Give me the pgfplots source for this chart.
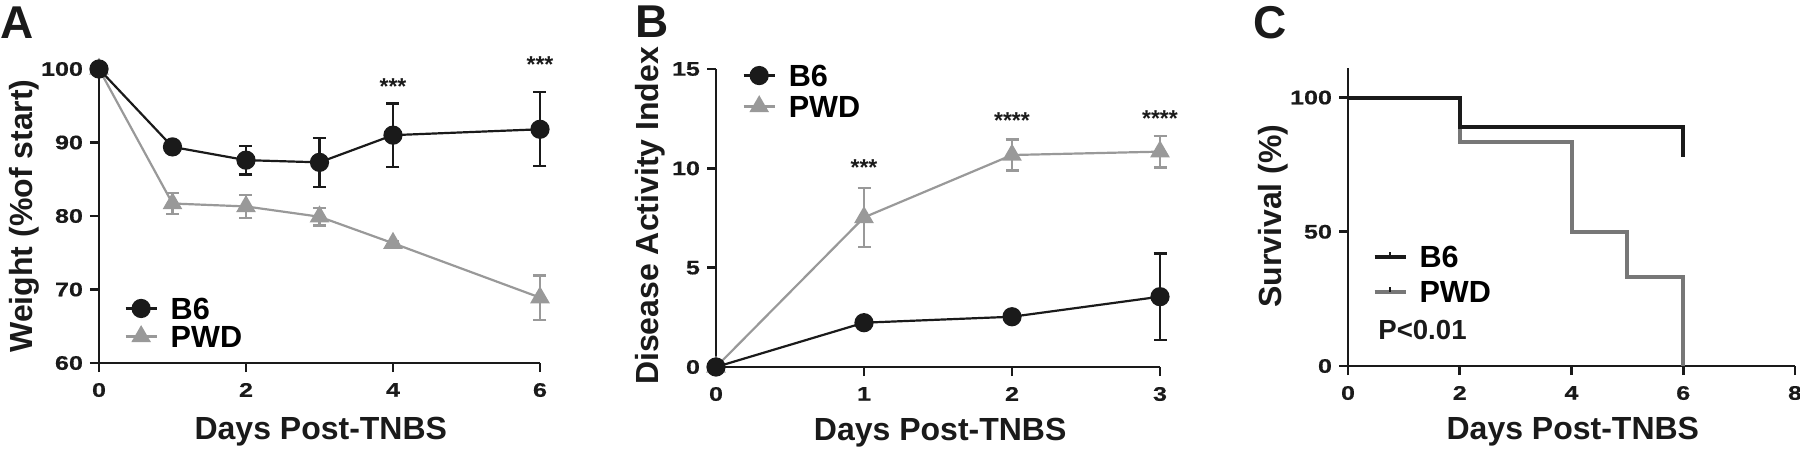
\documentclass[border=0pt]{standalone}
\usepackage{fontspec}
\setmainfont{Liberation Sans}
\newfontfamily\tickfont[FakeStretch=1.28, FakeBold=0.6]{Liberation Sans}
\usepackage{pgfplots}
\pgfplotsset{compat=1.18}
\definecolor{pwdgray}{HTML}{999999}
\definecolor{pwdgrayC}{HTML}{777777}
\definecolor{darkline}{HTML}{1A1A1A}

\tikzset{
  star/.style={font=\bfseries\fontsize{11.5}{12}\selectfont, anchor=base, text=darkline},
  letter/.style={font=\bfseries\fontsize{23}{24}\selectfont, anchor=base west, inner sep=0pt, text=darkline},
}
\pgfplotsset{
  panel/.style={
    scale only axis, clip=false,
    axis lines=left, axis line style={-, line width=1.35pt, darkline},
    tick align=outside, major tick length=4.5pt,
    tick style={line width=1.35pt, darkline},
    /pgf/number format/assume math mode=true,
    tick label style={font=\tickfont\bfseries\fontsize{9.8}{10}\selectfont, text=darkline},
    xticklabel style={yshift=-2pt},
    label style={font=\bfseries\fontsize{16}{18}\selectfont, text=darkline},
    minor tick num=0,
    legend cell align=left,
  },
  errs/.style={
    error bars/.cd, y dir=both, y explicit,
    error bar style={line width=1.1pt},
    error mark options={line width=1.1pt, mark size=3.25pt, rotate=90},
  },
  legimg/.style={
    legend image code/.code={\draw[mark repeat=2,mark phase=2,##1] plot coordinates {(0pt,0pt) (7.75pt,0pt) (15.5pt,0pt)};}
  },
  legimgC/.style={
    legend image code/.code={\draw[##1] (0pt,0pt) -- (15.5pt,0pt); \draw[line width=1pt, darkline] (7.75pt,0pt) -- (7.75pt,2.5pt);}
  },
}

\begin{document}
\begin{tikzpicture}
\useasboundingbox (0pt,0pt) rectangle (900pt,225pt);

% ---------------- Panel A ----------------
\begin{axis}[panel, legimg,
  at={(49.5pt,43.5pt)}, anchor=south west,
  width=220.5pt, height=147pt,
  xmin=0, xmax=6, ymin=60, ymax=100,
  xtick={0,2,4,6}, ytick={60,70,80,90,100},
  xlabel={Days Post-TNBS}, ylabel={Weight (\%of start)},
  xlabel style={at={(axis description cs:0.503,-0.259)}, anchor=base},
  ylabel style={at={(axis description cs:-0.17,0.5)}, anchor=center},
  reverse legend,
  legend style={at={(axis description cs:0.057,0.231)}, anchor=north west, draw=none, fill=none,
    font=\bfseries\fontsize{15.3}{16}\selectfont, inner sep=0pt, row sep=1pt,
    nodes={inner sep=1pt, text height=11pt, text depth=0pt},
    /tikz/every odd column/.append style={column sep=5.5pt}},
]
\addplot[color=pwdgray, line width=1.1pt, mark=triangle*, mark size=4.6pt,
  mark options={fill=pwdgray, draw=pwdgray}, errs] table[x=x, y=y, y error=e] {
x y e
0 100 0
1 81.7 1.45
2 81.3 1.6
3 79.9 1.2
4 76.3 0.3
6 68.9 3.0
};
\addlegendentry{PWD}
\addplot[color=darkline, line width=1.1pt, mark=*, mark size=4.25pt,
  mark options={fill=darkline, draw=darkline}, errs] table[x=x, y=y, y error=e] {
x y e
0 100 0
1 89.4 0.4
2 87.6 1.95
3 87.3 3.35
4 91.0 4.3
6 91.8 5.05
};
\addlegendentry{B6}
\node[star] at (axis cs:4,96.5) {***};
\node[star] at (axis cs:6,99.5) {***};
\node[letter] at (axis description cs:-0.2245,1.105) {A};
\end{axis}

% ---------------- Panel B ----------------
\begin{axis}[panel, legimg,
  at={(358pt,41.5pt)}, anchor=south west,
  width=222pt, height=149pt,
  xmin=0, xmax=3, ymin=0, ymax=15,
  xtick={0,1,2,3}, ytick={0,5,10,15},
  xlabel={Days Post-TNBS}, ylabel={Disease Activity Index},
  xlabel style={at={(axis description cs:0.505,-0.248)}, anchor=base},
  ylabel style={at={(axis description cs:-0.149,0.507)}, anchor=center},
  reverse legend,
  legend style={at={(axis description cs:0.059,1.023)}, anchor=north west, draw=none, fill=none,
    font=\bfseries\fontsize{15.3}{16}\selectfont, inner sep=0pt, row sep=2.5pt,
    nodes={inner sep=1pt, text height=11pt, text depth=0pt},
    /tikz/every odd column/.append style={column sep=5.5pt}},
]
\addplot[color=pwdgray, line width=1.1pt, mark=triangle*, mark size=4.6pt,
  mark options={fill=pwdgray, draw=pwdgray}, errs] table[x=x, y=y, y error=e] {
x y e
0 0 0
1 7.53 1.48
2 10.67 0.78
3 10.84 0.8
};
\addlegendentry{PWD}
\addplot[color=darkline, line width=1.1pt, mark=*, mark size=4.25pt,
  mark options={fill=darkline, draw=darkline}, errs] table[x=x, y=y, y error=e] {
x y e
0 0 0
1 2.23 0.1
2 2.53 0.1
3 3.54 2.17
};
\addlegendentry{B6}
\node[star] at (axis cs:1,9.66) {***};
\node[star] at (axis cs:2,12.03) {****};
\node[star] at (axis cs:3,12.13) {****};
\node[letter] at (axis description cs:-0.182,1.107) {B};
\end{axis}

% ---------------- Panel C ----------------
\begin{axis}[panel, legimgC,
  at={(674pt,42pt)}, anchor=south west,
  width=223.5pt, height=149pt,
  xmin=0, xmax=8, ymin=0, ymax=111,
  xtick={0,2,4,6,8}, ytick={0,50,100},
  xlabel={Days Post-TNBS}, ylabel={Survival (\%)},
  xlabel style={at={(axis description cs:0.503,-0.248)}, anchor=base},
  ylabel style={at={(axis description cs:-0.168,0.503)}, anchor=center},
  reverse legend,
  legend style={at={(axis description cs:0.054,0.412)}, anchor=north west, draw=none, fill=none,
    font=\bfseries\fontsize{15.3}{16}\selectfont, inner sep=0pt, row sep=4.5pt,
    nodes={inner sep=1pt, text height=11pt, text depth=0pt},
    /tikz/every odd column/.append style={column sep=5pt}},
]
\addplot[color=pwdgrayC, line width=2pt] coordinates {
(0,100) (2,100) (2,83.3) (4,83.3) (4,50) (5,50) (5,33.3) (6,33.3) (6,0)
};
\addlegendentry{PWD}
\addplot[color=darkline, line width=2pt] coordinates {
(0,100) (2,100) (2,88.9) (6,88.9) (6,77.8)
};
\addlegendentry{B6}
\node[anchor=base west, inner sep=0pt, font=\bfseries\fontsize{13.8}{15}\selectfont, text=darkline]
  at (axis description cs:0.067,0.0906) {P<0.01};
\node[letter] at (axis description cs:-0.2125,1.10) {C};
\end{axis}
\end{tikzpicture}
\end{document}
